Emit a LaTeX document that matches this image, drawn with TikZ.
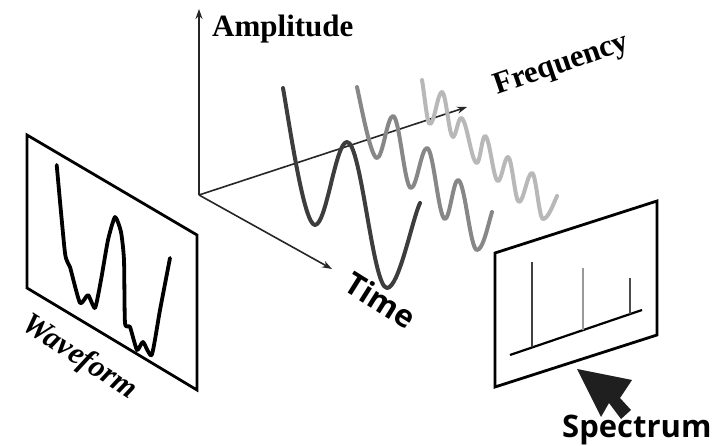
\documentclass[tikz,border=0pt]{standalone}
\usepackage{fontspec}
\setmainfont{Liberation Serif}
\newfontfamily\labsans{Open Sans}
\usetikzlibrary{arrows.meta}
\begin{document}
\begin{tikzpicture}[x=1pt,y=-1pt,
  axis/.style={draw=black!85, line width=1.6pt, -{Stealth[length=10pt,width=7pt]}},
  panel/.style={draw=black, line width=2.8pt, line join=miter},
  wavedark/.style={draw=black!76, line width=4pt, line cap=round, line join=round},
  wavemid/.style={draw=black!47, line width=4pt, line cap=round, line join=round},
  wavelight/.style={draw=black!28, line width=4pt, line cap=round, line join=round},
  serifbold/.style={inner sep=0pt, font=\fontsize{31}{37}\selectfont\bfseries},
  serifbi/.style={inner sep=0pt, font=\fontsize{31}{37}\selectfont\bfseries\itshape},
  sansbold/.style={inner sep=0pt, font=\labsans\fontsize{31}{37}\selectfont\bfseries},
  bar/.style={line width=2.2pt}
]
\fill[white] (0,0) rectangle (718,446);

% axes
\coordinate (O) at (199,195);
\coordinate (A) at (199,9);
\coordinate (F) at (467,107);
\coordinate (T) at (332,269);
\draw[axis] (O) -- (A);
\draw[axis] (O) -- (F);
\draw[axis] (O) -- (T);

% waves
\draw[wavelight] (422,80) .. controls (425,98) and (427,124) .. (430,124)
  \foreach \x/\y [remember=\x as \px (initially 430), remember=\y as \py (initially 124)] in
   {442/92, 453/137, 461/118, 477/163, 485/136, 498/181, 508/157, 519/202, 532/173, 543/219}
   { .. controls ({\px+0.36*(\x-\px)},\py) and ({\x-0.36*(\x-\px)},\y) .. (\x,\y) }
  .. controls (548,219) and (553,205) .. (557,196);

\draw[wavemid] (357,87) .. controls (362,110) and (371,158) .. (377,158)
  \foreach \x/\y [remember=\x as \px (initially 377), remember=\y as \py (initially 158)] in
   {393/116, 411/188, 427/148, 445/219, 458/180, 477/250}
   { .. controls ({\px+0.36*(\x-\px)},\py) and ({\x-0.36*(\x-\px)},\y) .. (\x,\y) }
  .. controls (483,250) and (488,225) .. (492,212);

\draw[wavedark] (283,88) .. controls (290,128) and (304,225) .. (315,225)
  \foreach \x/\y [remember=\x as \px (initially 315), remember=\y as \py (initially 225)] in
   {347/142, 387/288}
   { .. controls ({\px+0.36*(\x-\px)},\py) and ({\x-0.36*(\x-\px)},\y) .. (\x,\y) }
  .. controls (399,288) and (412,220) .. (420,203);

% waveform panel
\draw[panel] (27,135) -- (197,235) -- (197,390) -- (27,288) -- cycle;
\draw[line width=3.8pt, line cap=round, line join=round]
  plot[smooth, tension=0.35] coordinates {
   (56.7,165) (65,253) (70,267) (80,303) (88,295) (95,308) (101,280)
   (108,240) (115,217) (121,232) (124,260) (125,323) (130,327) (137,350)
   (143,342) (151.7,355) (160,310) (170,258)};

% spectrum panel
\draw[panel] (495,253) -- (657,201) -- (657,335) -- (495,387) -- cycle;
\coordinate (b0) at (510,355);
\coordinate (b1) at (642,310);
\draw[line width=2.2pt] (b0) -- (b1);
\draw[bar, draw=black!75] (532,262) -- (532,347.5);
\draw[bar, draw=black!40] (583,268) -- (583,330.1);
\draw[bar, draw=black!70] (630,278) -- (630,314.1);

% cursor arrow
\fill[black!88] (577,369) -- (601,417) -- (609,403) -- (621,419) -- (631,410)
  -- (620,398) -- (632,380) -- cycle;

% labels
\node[serifbold, anchor=base west] (amp) at (212,37) {Amplitude};
\node[serifbold, anchor=base, rotate=19] (freq) at (564,72) {Frequency};
\node[serifbi, anchor=base, rotate=-33] (wf) at (75,364) {Waveform};
\node[sansbold, anchor=base, rotate=-32] (time) at (375,310) {Time};
\node[sansbold, anchor=base west] (spec) at (562,437) {Spectrum};
\end{tikzpicture}
\end{document}
